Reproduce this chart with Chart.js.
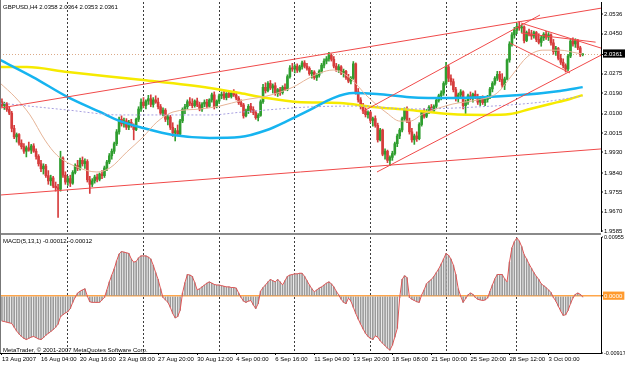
<!DOCTYPE html>
<html>
<head>
<meta charset="utf-8">
<script src="https://cdn.jsdelivr.net/npm/chart.js@4.4.0/dist/chart.umd.min.js"></script>
<style>
html, body { margin: 0; padding: 0; background: #fff; }
#wrap { position: relative; width: 625px; height: 366px; overflow: hidden; background: #fff;
        font-family: "Liberation Sans", Arial, sans-serif; }
canvas { position: absolute; left: 0; }
#main { top: 0; }
#macd { top: 234px; }
.sep { position: absolute; left: 0; top: 233px; width: 601px; height: 2px; background: #8a8a8a; }
.leftline { position: absolute; left: 0; top: 0; width: 1px; height: 353px; background: #777; }
.txt { position: absolute; left: 3px; font-size: 6px; line-height: 8px; color: #000; white-space: nowrap; }
</style>
</head>
<body>
<div id="wrap">
  <canvas id="main" width="625" height="234" style="width:625px;height:234px"></canvas>
  <canvas id="macd" width="625" height="132" style="width:625px;height:132px"></canvas>
  <div class="sep"></div>
  <div class="leftline"></div>
  <div class="txt" id="title" style="top:3px"></div>
  <div class="txt" id="macdTitle" style="top:237px"></div>
  <div class="txt" style="top:346px">MetaTrader, © 2001-2007 MetaQuotes Software Corp.</div>
</div>
<script>
// GBPUSD H4 bars, 13 Aug 2007 12:00 .. 5 Oct 2007 08:00
const opens = [
  2.0152,2.0135,2.0142,2.0118,2.0102,2.0035,1.9998,2.0008,1.9970,1.9955,
  1.9935,1.9950,1.9940,1.9958,1.9935,1.9912,1.9880,1.9858,1.9870,1.9828,
  1.9805,1.9818,1.9782,1.9775,1.9768,1.9905,1.9830,1.9800,1.9815,1.9795,
  1.9842,1.9872,1.9860,1.9895,1.9880,1.9890,1.9810,1.9790,1.9805,1.9822,
  1.9812,1.9835,1.9828,1.9862,1.9888,1.9915,1.9935,1.9968,2.0020,2.0075,
  2.0055,2.0068,2.0040,2.0062,2.0048,2.0030,2.0075,2.0120,2.0150,2.0135,
  2.0155,2.0165,2.0140,2.0160,2.0150,2.0130,2.0102,2.0115,2.0075,2.0085,
  2.0040,2.0015,2.0025,2.0010,2.0068,2.0118,2.0130,2.0152,2.0145,2.0135,
  2.0155,2.0138,2.0120,2.0142,2.0150,2.0132,2.0160,2.0182,2.0130,2.0155,
  2.0178,2.0185,2.0170,2.0188,2.0175,2.0190,2.0182,2.0168,2.0148,2.0138,
  2.0090,2.0112,2.0132,2.0118,2.0105,2.0082,2.0092,2.0152,2.0215,2.0200,
  2.0232,2.0212,2.0222,2.0188,2.0205,2.0192,2.0215,2.0208,2.0262,2.0300,
  2.0295,2.0308,2.0290,2.0305,2.0322,2.0308,2.0298,2.0275,2.0282,2.0258,
  2.0268,2.0285,2.0312,2.0330,2.0340,2.0355,2.0338,2.0308,2.0292,2.0305,
  2.0278,2.0285,2.0258,2.0242,2.0255,2.0318,2.0195,2.0160,2.0130,2.0112,
  2.0095,2.0105,2.0070,2.0078,2.0048,1.9985,2.0028,1.9922,1.9935,1.9895,
  1.9908,1.9925,1.9968,2.0002,2.0028,2.0078,2.0118,2.0068,2.0020,1.9985,
  2.0002,1.9990,2.0052,2.0105,2.0088,2.0110,2.0128,2.0112,2.0132,2.0158,
  2.0178,2.0190,2.0232,2.0305,2.0255,2.0240,2.0205,2.0165,2.0182,2.0195,
  2.0135,2.0150,2.0178,2.0168,2.0185,2.0172,2.0150,2.0168,2.0148,2.0162,
  2.0172,2.0208,2.0232,2.0255,2.0272,2.0250,2.0225,2.0252,2.0335,2.0405,
  2.0445,2.0465,2.0482,2.0475,2.0480,2.0420,2.0455,2.0448,2.0440,2.0455,
  2.0425,2.0412,2.0432,2.0448,2.0435,2.0445,2.0410,2.0372,2.0385,2.0342,
  2.0325,2.0310,2.0295,2.0352,2.0418,2.0405,2.0420,2.0388,2.0358
];
const highs = [
  2.0165,2.0150,2.0148,2.0130,2.0110,2.0048,2.0015,2.0012,1.9985,1.9968,
  1.9958,1.9975,1.9965,1.9968,1.9945,1.9920,1.9895,1.9880,1.9878,1.9850,
  1.9830,1.9825,1.9800,1.9790,1.9935,1.9910,1.9845,1.9825,1.9830,1.9850,
  1.9880,1.9895,1.9905,1.9910,1.9902,1.9898,1.9825,1.9815,1.9830,1.9835,
  1.9840,1.9850,1.9870,1.9895,1.9925,1.9945,1.9975,2.0030,2.0085,2.0090,
  2.0080,2.0078,2.0070,2.0075,2.0055,2.0080,2.0130,2.0165,2.0170,2.0160,
  2.0180,2.0182,2.0170,2.0178,2.0168,2.0140,2.0125,2.0122,2.0095,2.0092,
  2.0060,2.0035,2.0050,2.0075,2.0125,2.0140,2.0160,2.0170,2.0165,2.0160,
  2.0168,2.0150,2.0148,2.0160,2.0162,2.0165,2.0190,2.0195,2.0160,2.0185,
  2.0195,2.0198,2.0192,2.0200,2.0195,2.0205,2.0192,2.0175,2.0160,2.0145,
  2.0120,2.0140,2.0145,2.0130,2.0112,2.0100,2.0160,2.0228,2.0235,2.0240,
  2.0245,2.0230,2.0235,2.0210,2.0215,2.0222,2.0230,2.0270,2.0310,2.0320,
  2.0315,2.0318,2.0312,2.0330,2.0332,2.0320,2.0305,2.0290,2.0288,2.0275,
  2.0292,2.0320,2.0340,2.0350,2.0368,2.0362,2.0350,2.0320,2.0315,2.0310,
  2.0295,2.0290,2.0272,2.0262,2.0328,2.0322,2.0210,2.0170,2.0145,2.0125,
  2.0112,2.0110,2.0085,2.0090,2.0058,2.0035,2.0032,1.9945,1.9940,1.9915,
  1.9935,1.9975,2.0010,2.0035,2.0085,2.0125,2.0130,2.0080,2.0035,2.0010,
  2.0020,2.0060,2.0115,2.0122,2.0118,2.0135,2.0140,2.0138,2.0165,2.0185,
  2.0200,2.0240,2.0325,2.0312,2.0270,2.0252,2.0215,2.0190,2.0205,2.0200,
  2.0160,2.0185,2.0195,2.0190,2.0200,2.0185,2.0175,2.0178,2.0170,2.0180,
  2.0215,2.0240,2.0262,2.0285,2.0285,2.0275,2.0260,2.0340,2.0415,2.0455,
  2.0478,2.0495,2.0503,2.0490,2.0485,2.0462,2.0470,2.0465,2.0462,2.0460,
  2.0450,2.0440,2.0455,2.0460,2.0455,2.0450,2.0425,2.0395,2.0390,2.0360,
  2.0340,2.0318,2.0360,2.0425,2.0432,2.0428,2.0425,2.0395,2.0364
];
const lows = [
  2.0128,2.0118,2.0110,2.0095,2.0020,1.9990,1.9975,1.9962,1.9945,1.9925,
  1.9910,1.9935,1.9925,1.9930,1.9900,1.9870,1.9845,1.9835,1.9820,1.9790,
  1.9785,1.9775,1.9760,1.9645,1.9760,1.9820,1.9790,1.9785,1.9780,1.9790,
  1.9835,1.9850,1.9852,1.9870,1.9860,1.9800,1.9750,1.9780,1.9795,1.9800,
  1.9805,1.9815,1.9820,1.9850,1.9880,1.9900,1.9925,1.9960,2.0010,2.0045,
  2.0040,2.0030,2.0030,2.0040,1.9985,2.0025,2.0065,2.0110,2.0125,2.0120,
  2.0140,2.0130,2.0128,2.0145,2.0120,2.0095,2.0090,2.0065,2.0050,2.0030,
  2.0000,1.9980,2.0005,2.0000,2.0060,2.0100,2.0120,2.0135,2.0125,2.0128,
  2.0130,2.0112,2.0110,2.0130,2.0125,2.0128,2.0150,2.0120,2.0125,2.0145,
  2.0165,2.0162,2.0160,2.0170,2.0168,2.0175,2.0160,2.0140,2.0130,2.0080,
  2.0085,2.0100,2.0105,2.0095,2.0075,2.0068,2.0088,2.0145,2.0190,2.0195,
  2.0205,2.0190,2.0180,2.0175,2.0180,2.0185,2.0200,2.0200,2.0255,2.0285,
  2.0278,2.0280,2.0282,2.0295,2.0300,2.0290,2.0268,2.0255,2.0250,2.0245,
  2.0260,2.0278,2.0300,2.0318,2.0330,2.0330,2.0300,2.0285,2.0280,2.0270,
  2.0260,2.0250,2.0235,2.0230,2.0250,2.0185,2.0150,2.0120,2.0100,2.0085,
  2.0080,2.0060,2.0045,2.0040,1.9975,1.9980,1.9915,1.9900,1.9885,1.9872,
  1.9895,1.9918,1.9955,1.9990,2.0020,2.0070,2.0060,2.0010,1.9975,1.9965,
  1.9978,1.9985,2.0045,2.0080,2.0082,2.0100,2.0105,2.0108,2.0125,2.0150,
  2.0160,2.0180,2.0225,2.0240,2.0225,2.0195,2.0155,2.0150,2.0168,2.0120,
  2.0100,2.0140,2.0160,2.0150,2.0165,2.0140,2.0135,2.0140,2.0135,2.0150,
  2.0165,2.0195,2.0225,2.0245,2.0240,2.0215,2.0205,2.0248,2.0325,2.0395,
  2.0430,2.0450,2.0465,2.0455,2.0410,2.0415,2.0440,2.0425,2.0430,2.0415,
  2.0405,2.0395,2.0420,2.0425,2.0420,2.0400,2.0360,2.0355,2.0335,2.0315,
  2.0300,2.0282,2.0288,2.0345,2.0395,2.0390,2.0380,2.0350,2.0353
];
const closes = [
  2.0135,2.0142,2.0118,2.0102,2.0035,1.9998,2.0008,1.9970,1.9955,1.9935,
  1.9950,1.9940,1.9958,1.9935,1.9912,1.9880,1.9858,1.9870,1.9828,1.9805,
  1.9818,1.9782,1.9775,1.9768,1.9905,1.9830,1.9800,1.9815,1.9795,1.9842,
  1.9872,1.9860,1.9895,1.9880,1.9890,1.9810,1.9790,1.9805,1.9822,1.9812,
  1.9835,1.9828,1.9862,1.9888,1.9915,1.9935,1.9968,2.0020,2.0075,2.0055,
  2.0068,2.0040,2.0062,2.0048,2.0030,2.0075,2.0120,2.0150,2.0135,2.0155,
  2.0165,2.0140,2.0160,2.0150,2.0130,2.0102,2.0115,2.0075,2.0085,2.0040,
  2.0015,2.0025,2.0010,2.0068,2.0118,2.0130,2.0152,2.0145,2.0135,2.0155,
  2.0138,2.0120,2.0142,2.0150,2.0132,2.0160,2.0182,2.0130,2.0155,2.0178,
  2.0185,2.0170,2.0188,2.0175,2.0190,2.0182,2.0168,2.0148,2.0138,2.0090,
  2.0112,2.0132,2.0118,2.0105,2.0082,2.0092,2.0152,2.0215,2.0200,2.0232,
  2.0212,2.0222,2.0188,2.0205,2.0192,2.0215,2.0208,2.0262,2.0300,2.0295,
  2.0308,2.0290,2.0305,2.0322,2.0308,2.0298,2.0275,2.0282,2.0258,2.0268,
  2.0285,2.0312,2.0330,2.0340,2.0355,2.0338,2.0308,2.0292,2.0305,2.0278,
  2.0285,2.0258,2.0242,2.0255,2.0318,2.0195,2.0160,2.0130,2.0112,2.0095,
  2.0105,2.0070,2.0078,2.0048,1.9985,2.0028,1.9922,1.9935,1.9895,1.9908,
  1.9925,1.9968,2.0002,2.0028,2.0078,2.0118,2.0068,2.0020,1.9985,2.0002,
  1.9990,2.0052,2.0105,2.0088,2.0110,2.0128,2.0112,2.0132,2.0158,2.0178,
  2.0190,2.0232,2.0305,2.0255,2.0240,2.0205,2.0165,2.0182,2.0195,2.0135,
  2.0150,2.0178,2.0168,2.0185,2.0172,2.0150,2.0168,2.0148,2.0162,2.0172,
  2.0208,2.0232,2.0255,2.0272,2.0250,2.0225,2.0252,2.0335,2.0405,2.0445,
  2.0465,2.0482,2.0475,2.0480,2.0420,2.0455,2.0448,2.0440,2.0455,2.0425,
  2.0412,2.0432,2.0448,2.0435,2.0445,2.0410,2.0372,2.0385,2.0342,2.0325,
  2.0310,2.0295,2.0352,2.0418,2.0405,2.0420,2.0388,2.0358,2.0361
];

// MACD(5,13,1) main line, one value per bar
const macd = [
  -0.0040,-0.0041,-0.0042,-0.0043,-0.0044,-0.0050,-0.0056,-0.0061,-0.0065,-0.0068,
  -0.0070,-0.0068,-0.0066,-0.0065,-0.0067,-0.0069,-0.0070,-0.0067,-0.0063,-0.0060,
  -0.0057,-0.0054,-0.0050,-0.0045,-0.0033,-0.0030,-0.0027,-0.0025,-0.0020,-0.0010,
  -0.0002,0.0005,0.0008,0.0010,0.0012,0.0000,-0.0009,-0.0010,-0.0010,-0.0010,
  -0.0010,-0.0006,-0.0002,0.0010,0.0023,0.0034,0.0044,0.0057,0.0068,0.0072,
  0.0071,0.0070,0.0069,0.0060,0.0055,0.0056,0.0062,0.0065,0.0065,0.0065,
  0.0063,0.0060,0.0050,0.0038,0.0027,0.0012,-0.0002,-0.0006,-0.0010,-0.0018,
  -0.0028,-0.0035,-0.0033,-0.0023,0.0005,0.0022,0.0035,0.0034,0.0032,0.0022,
  0.0010,0.0012,0.0015,0.0018,0.0021,0.0023,0.0021,0.0019,0.0018,0.0018,
  0.0017,0.0016,0.0015,0.0015,0.0014,0.0014,0.0013,0.0005,-0.0002,-0.0008,
  -0.0010,-0.0008,-0.0007,-0.0014,-0.0020,-0.0012,0.0008,0.0014,0.0018,0.0023,
  0.0027,0.0025,0.0023,0.0027,0.0023,0.0018,0.0025,0.0032,0.0034,0.0035,
  0.0036,0.0036,0.0037,0.0037,0.0032,0.0025,0.0018,0.0012,0.0007,0.0010,
  0.0013,0.0015,0.0018,0.0021,0.0023,0.0020,0.0015,0.0008,0.0002,-0.0005,
  -0.0010,-0.0012,-0.0003,-0.0008,-0.0018,-0.0028,-0.0037,-0.0045,-0.0053,-0.0060,
  -0.0065,-0.0068,-0.0070,-0.0064,-0.0066,-0.0072,-0.0076,-0.0080,-0.0084,-0.0087,
  -0.0079,-0.0066,-0.0052,-0.0002,0.0027,0.0033,0.0030,-0.0002,-0.0005,-0.0007,
  -0.0009,-0.0010,0.0002,0.0010,0.0020,0.0024,0.0027,0.0032,0.0038,0.0044,
  0.0052,0.0060,0.0069,0.0066,0.0060,0.0050,0.0035,0.0012,0.0000,-0.0010,
  -0.0004,0.0002,0.0005,0.0003,-0.0002,-0.0005,-0.0006,-0.0007,-0.0006,-0.0003,
  0.0008,0.0018,0.0028,0.0035,0.0035,0.0035,0.0028,0.0023,0.0055,0.0078,
  0.0088,0.0094,0.0089,0.0080,0.0067,0.0060,0.0052,0.0045,0.0038,0.0032,
  0.0027,0.0020,0.0017,0.0014,0.0010,0.0006,-0.0002,-0.0008,-0.0016,-0.0024,
  -0.0031,-0.0030,-0.0023,-0.0012,-0.0003,0.0003,0.0005,0.0003,-0.00012
];

// moving averages, read at a few bars each (bar index, price)
const yellowMaIdx = [-0.8, 10.2, 27, 57.8, 85.2, 97.5, 108.6, 120.9, 138.5, 152, 167.2, 183.6, 198.8, 208.2, 216.4, 224.6, 232.8, 238];
const yellowMaVal = [2.0304, 2.0304, 2.0282, 2.0247, 2.0212, 2.0190, 2.0168, 2.0151, 2.0146, 2.0129, 2.0116, 2.0098, 2.0094, 2.0098, 2.0120, 2.0142, 2.0164, 2.0181];
const blueMaIdx = [-0.8, 12.7, 27, 40.2, 48.4, 57.8, 70.1, 85.2, 97.5, 108.6, 116.8, 126.2, 135.7, 143.9, 153.7, 167.2, 184.8, 212.3, 228.7, 238];
const blueMaVal = [2.0335, 2.0260, 2.0172, 2.0107, 2.0067, 2.0037, 2.0006, 1.9993, 1.9997, 2.0028, 2.0067, 2.0116, 2.0168, 2.0190, 2.0186, 2.0172, 2.0168, 2.0181, 2.0199, 2.0216];
const lilacMaIdx = [-0.8, 26.6, 48.4, 68.9, 85.2, 98.8, 126.2, 146.7, 167.2, 201.2, 221.7, 238];
const lilacMaVal = [2.0146, 2.0116, 2.0094, 2.0094, 2.0094, 2.0107, 2.0129, 2.0133, 2.0120, 2.0133, 2.0151, 2.0177];
const tanMaIdx = [-0.8, 5.3, 11.5, 17.6, 22.5, 30.7, 38.9, 44.3, 51.2, 57.8, 63.5, 70.1, 81.1, 89.3, 98.8, 108.6, 119.3, 125, 130.3, 135.7, 142.6, 149.6, 157.8, 163.1, 167.2, 172.5, 184.8, 194.7, 202.9, 209.4, 215.2, 221.7, 228.7, 235.7, 238];
const tanMaVal = [2.0234, 2.0173, 2.0094, 1.9984, 1.9918, 1.9866, 1.9844, 1.9862, 1.9932, 1.9997, 2.0063, 2.0107, 2.0120, 2.0133, 2.0159, 2.0177, 2.0216, 2.0251, 2.0278, 2.0291, 2.0256, 2.0177, 2.0102, 2.0067, 2.0067, 2.0098, 2.0142, 2.0159, 2.0190, 2.0273, 2.0348, 2.0378, 2.0378, 2.0365, 2.0361];

// trend lines: [bar1, price1, bar2, price2]
const trendLines = [
  [-0.8, 2.0124, 245.5, 2.0562],
  [-0.8, 1.9743, 245.5, 1.9945],
  [147.5, 2.0107, 220.5, 2.0532],
  [153.7, 1.9844, 245.5, 2.0356],
  [212.7, 2.0497, 245.5, 2.0387],
  [212.7, 2.0453, 243.3, 2.0413],
  [208.2, 2.0409, 232.8, 2.0278]
];

const priceTicks = [2.0536, 2.0450, 2.0361, 2.0275, 2.0190, 2.0100, 2.0015, 1.9930, 1.9840, 1.9755, 1.9670, 1.9585];
const macdTicks = [0.00955, 0, -0.00917];
const timeTickIdx = [0, 16, 32, 48, 64, 80, 96, 112, 128, 144, 160, 176, 192, 208, 224];
const timeLabels = ['13 Aug 2007', '16 Aug 04:00', '20 Aug 16:00', '23 Aug 08:00', '27 Aug 20:00', '30 Aug 12:00',
  '4 Sep 00:00', '6 Sep 16:00', '11 Sep 04:00', '13 Sep 20:00', '18 Sep 08:00', '21 Sep 00:00',
  '25 Sep 20:00', '28 Sep 12:00', '3 Oct 00:00'];
const weekStarts = [27, 58, 89, 120, 151, 182, 211];

const xMin = -0.8, xMax = 245.5;
const priceMin = 1.9581, priceMax = 2.0589;
const macdMin = -0.00917, macdMax = 0.00955;

const family = '"Liberation Sans", Arial, sans-serif';
const font = { family: family, size: 6 };
const smallFont = { family: family, size: 5.5 };
const bull = '#2f9e2f', bear = '#d63c3c', trendColor = '#f04a4a';

const last = closes.length - 1;
const lastClose = closes[last];
document.getElementById('title').textContent =
  'GBPUSD,H4 ' + [opens[last], highs[last], lows[last], closes[last]].map(v => v.toFixed(4)).join(' ');
document.getElementById('macdTitle').textContent =
  'MACD(5,13,1) ' + macd[last].toFixed(5) + ' ' + macd[last].toFixed(5);

const barIdx = closes.map((c, i) => i);
const candleColors = barIdx.map(i => closes[i] >= opens[i] ? bull : bear);
const zip = (xs, ys) => xs.map((x, k) => ({ x: x, y: ys[k] }));

function noPad(s) { s.paddingTop = 0; s.paddingBottom = 0; s.paddingLeft = 0; s.paddingRight = 0; }

// x axis that only draws the dashed weekly separators
function weekAxis() {
  return {
    type: 'linear', position: 'bottom', min: xMin, max: xMax, offset: false,
    afterBuildTicks: s => { s.ticks = weekStarts.map(v => ({ value: v })); },
    afterFit: s => { s.height = 0; noPad(s); },
    ticks: { display: false },
    grid: { color: '#3c3c3c', lineWidth: 1, drawTicks: false, offset: false },
    border: { display: false, dash: [2, 2] }
  };
}

function lineSet(data, color, width, extra) {
  return Object.assign({
    type: 'line', data: data, borderColor: color, borderWidth: width,
    pointRadius: 0, fill: false, tension: 0
  }, extra || {});
}

// ---------- price chart ----------
const mainSets = [];
trendLines.forEach(t => {
  mainSets.push(lineSet([{ x: t[0], y: t[1] }, { x: t[2], y: t[3] }], trendColor, 1));
});
mainSets.push(lineSet(zip(tanMaIdx, tanMaVal), '#e6b497', 1, { cubicInterpolationMode: 'monotone' }));
mainSets.push(lineSet(zip(lilacMaIdx, lilacMaVal), '#a79fe0', 1, { cubicInterpolationMode: 'monotone', borderDash: [2, 2] }));
mainSets.push(lineSet(zip(blueMaIdx, blueMaVal), '#16b4f0', 2.5, { cubicInterpolationMode: 'monotone' }));
mainSets.push(lineSet(zip(yellowMaIdx, yellowMaVal), '#f6ea00', 2.5, { cubicInterpolationMode: 'monotone' }));
mainSets.push({
  type: 'bar', grouped: false, barThickness: 2, borderWidth: 0,
  data: barIdx.map(i => ({ x: i, y: [opens[i], closes[i]] })),
  backgroundColor: candleColors
});
mainSets.push({
  type: 'bar', grouped: false, barThickness: 1, borderWidth: 0,
  data: barIdx.map(i => ({ x: i, y: [lows[i], highs[i]] })),
  backgroundColor: candleColors
});

new Chart(document.getElementById('main'), {
  type: 'bar',
  data: { datasets: mainSets },
  options: {
    responsive: false, animation: false, events: [],
    layout: { padding: { top: 2, bottom: 2, left: 0, right: 0 } },
    plugins: { legend: { display: false }, tooltip: { enabled: false } },
    scales: {
      x: weekAxis(),
      y: {
        position: 'right', min: priceMin, max: priceMax,
        afterBuildTicks: s => { s.ticks = priceTicks.map(v => ({ value: v })); },
        afterFit: s => { s.width = 24; noPad(s); },
        ticks: {
          font: font, padding: 1, autoSkip: false,
          color: c => (c.tick && c.tick.value === lastClose) ? '#fff' : '#000',
          showLabelBackdrop: c => !!(c.tick && c.tick.value === lastClose),
          backdropColor: '#000', backdropPadding: { left: 1, right: 3, top: 1, bottom: 0 },
          callback: v => v.toFixed(4)
        },
        grid: {
          drawOnChartArea: true, tickLength: 2, tickWidth: 1, tickColor: '#000',
          color: c => (c.tick && c.tick.value === lastClose) ? '#dcaa88' : 'rgba(0,0,0,0)',
          lineWidth: c => (c.tick && c.tick.value === lastClose) ? 1 : 0
        },
        border: { display: true, color: '#000', width: 1, dash: [1, 2] }
      }
    }
  }
});

// ---------- MACD chart ----------
new Chart(document.getElementById('macd'), {
  type: 'bar',
  data: {
    datasets: [
      lineSet(zip(barIdx, macd), '#e05555', 1),
      {
        type: 'bar', grouped: false, barThickness: 1, borderWidth: 0,
        data: zip(barIdx, macd), backgroundColor: '#9a9a9a'
      }
    ]
  },
  options: {
    responsive: false, animation: false, events: [],
    layout: { padding: { top: 3, bottom: 0, left: 0, right: 0 } },
    plugins: { legend: { display: false }, tooltip: { enabled: false } },
    scales: {
      x: {
        type: 'linear', position: 'bottom', min: xMin, max: xMax, offset: false,
        afterBuildTicks: s => { s.ticks = timeTickIdx.map(v => ({ value: v })); },
        afterFit: s => { s.height = 13; noPad(s); },
        ticks: {
          font: font, color: '#000', autoSkip: false, maxRotation: 0, minRotation: 0,
          align: 'start', padding: 1,
          callback: (v, k) => timeLabels[k]
        },
        grid: { drawOnChartArea: false, drawTicks: true, tickLength: 2, color: '#000', offset: false },
        border: { display: true, color: '#000', width: 1 }
      },
      xw: weekAxis(),
      y: {
        position: 'right', min: macdMin, max: macdMax,
        afterBuildTicks: s => { s.ticks = macdTicks.map(v => ({ value: v })); },
        afterFit: s => { s.width = 24; noPad(s); },
        ticks: {
          font: c => (c.tick && c.tick.value === 0) ? font : smallFont,
          padding: 1, autoSkip: false,
          color: c => (c.tick && c.tick.value === 0) ? '#fff' : '#000',
          showLabelBackdrop: c => !!(c.tick && c.tick.value === 0),
          backdropColor: '#ff9a2e', backdropPadding: { left: 1, right: 2, top: 1, bottom: 0 },
          callback: v => v === 0 ? '0.0000' : v.toFixed(5)
        },
        grid: {
          drawOnChartArea: true, tickLength: 2, tickWidth: 1, tickColor: '#000',
          color: c => (c.tick && c.tick.value === 0) ? '#ffa64a' : 'rgba(0,0,0,0)',
          lineWidth: c => (c.tick && c.tick.value === 0) ? 1.5 : 0
        },
        border: { display: true, color: '#000', width: 1 }
      }
    }
  }
});
</script>
</body>
</html>
